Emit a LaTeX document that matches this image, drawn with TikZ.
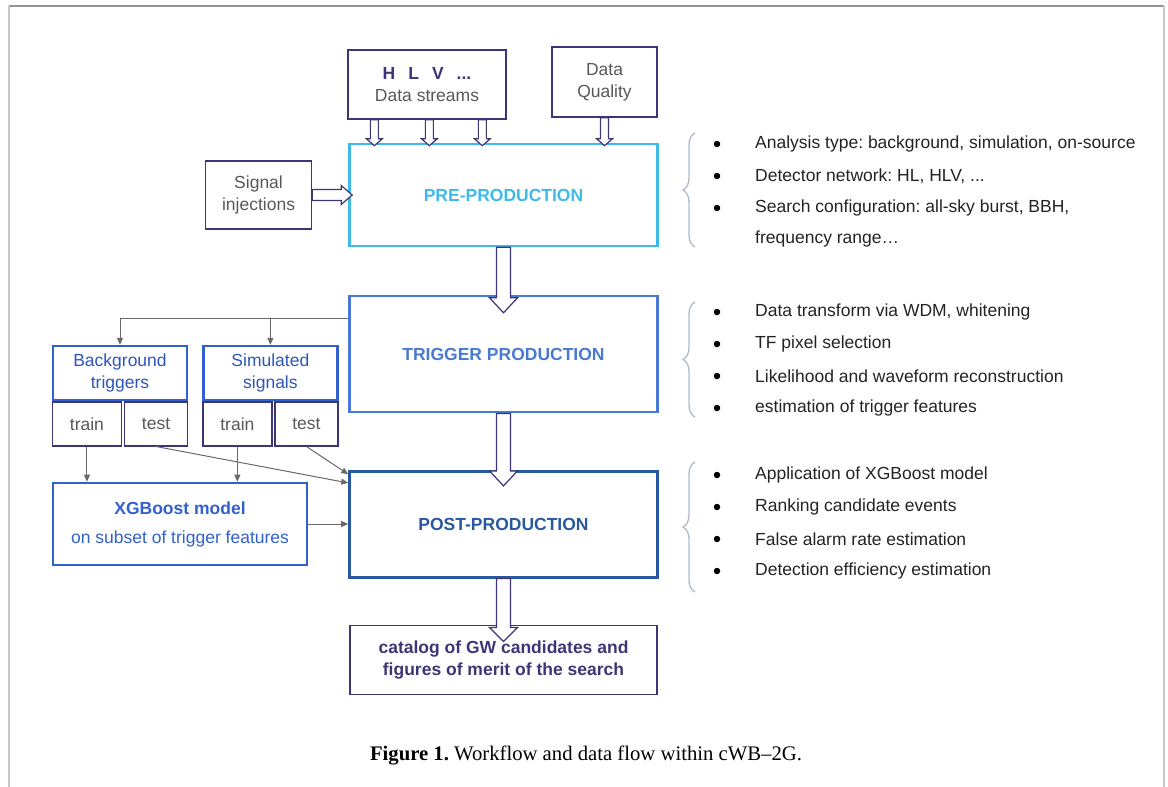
\documentclass[tikz,border=0pt]{standalone}
\usepackage{fontspec}
\setmainfont{Liberation Serif}
\setsansfont{Liberation Sans}
\usepackage{tikz}
\usetikzlibrary{positioning,calc,arrows.meta,decorations.pathreplacing}
\frenchspacing

\definecolor{navy}{RGB}{60,54,118}
\definecolor{labelgray}{RGB}{88,88,88}
\definecolor{precyan}{RGB}{62,186,232}
\definecolor{trigblue}{RGB}{72,122,212}
\definecolor{postblue}{RGB}{40,88,158}
\definecolor{boxblue}{RGB}{50,96,205}
\definecolor{conngray}{RGB}{105,105,105}
\definecolor{bracegray}{RGB}{175,188,200}
\definecolor{itemgray}{RGB}{35,35,35}

\newcommand{\txtsize}{\fontsize{17.5}{22}\selectfont}
\newcommand{\hollowarrow}[5]{%
  \coordinate (hb) at ($(#2)!#5!(#1)$);
  \draw[fat] ($(#1)!#3!90:(#2)$) -- ($(hb)!#3!-90:(#1)$) -- ($(hb)!#4!-90:(#1)$) -- (#2)
    -- ($(hb)!#4!90:(#1)$) -- ($(hb)!#3!90:(#1)$) -- ($(#1)!#3!-90:(#2)$) -- cycle;}

\begin{document}
\begin{tikzpicture}[x=1pt,y=-1pt]
    % Styles
    \tikzstyle{plain} = [draw=navy, line width=1.3pt, rectangle, inner sep=0pt, align=center,
        text=labelgray, font=\sffamily\txtsize]
    \tikzstyle{stage} = [draw, line width=2.6pt, rectangle, inner sep=0pt, minimum width=308pt,
        font=\sffamily\bfseries\txtsize]
    \tikzstyle{sample} = [draw=boxblue, line width=2.4pt, minimum width=134pt, minimum height=54pt,
        inner sep=0pt, align=center, text=boxblue!90!black, font=\sffamily\txtsize]
    \tikzstyle{half} = [draw=navy, line width=1.3pt, minimum height=44pt, inner sep=0pt,
        text=labelgray, font=\sffamily\txtsize]
    \tikzstyle{conn} = [draw=conngray, line width=1pt, -{Triangle[length=7pt,width=6pt]}]
    \tikzstyle{fat} = [draw=navy, line width=1.2pt, fill=white, line join=miter]
    \tikzstyle{bulletdot} = [circle, fill=black, inner sep=0pt, minimum size=6.5pt]
    \tikzstyle{listitem} = [anchor=west, inner sep=0pt, text=itemgray, font=\sffamily\txtsize]
    \tikzstyle{brc} = [draw=bracegray, line width=1.3pt, decorate, decoration={brace,amplitude=12pt}]

    \useasboundingbox (0,0) rectangle (1168,787);

    % Frame
    \draw[line width=1.5pt, draw=black!42] (9,6) -- (1164,6);
    \draw[line width=2pt, draw=black!22] (9,6) -- (9,787) (1164,6) -- (1164,787);

    % Nodes
    \node (pre)  [stage, draw=precyan, text=precyan, minimum height=102pt] at (503.5,195) {PRE-PRODUCTION};
    \node (trig) [stage, draw=trigblue, text=trigblue, minimum height=116pt, below=47.5pt of pre] {TRIGGER PRODUCTION};
    \node (post) [stage, draw=postblue, text=postblue, minimum height=106pt, below=56.5pt of trig] {POST-PRODUCTION};
    \node (cat)  [plain, minimum width=307pt, minimum height=69pt, text=navy, font=\sffamily\bfseries\txtsize,
        below=46pt of post] {catalog of GW candidates and\\figures of merit of the search};

    \node (ds)   [plain, minimum width=158pt, minimum height=69pt] at (427,84.5)
        {{\bfseries\color{navy}H\hspace{13pt}L\hspace{13pt}V\hspace{13pt}...}\\Data streams};
    \node (dq)   [plain, minimum width=105pt, minimum height=70pt] at (604.5,82) {Data\\Quality};
    \node (sig)  [plain, minimum width=106pt, minimum height=68pt, left=36pt of pre] {Signal\\injections};

    \node (bg)   [sample] at (120,373) {Background\\triggers};
    \node (sim)  [sample, right=14pt of bg] {Simulated\\signals};
    \node (bgtrain)  [half, minimum width=69pt, anchor=north west] at (bg.south west) {train};
    \node (bgtest)   [half, minimum width=63pt, anchor=north east] at (bg.south east) {test};
    \node (simtrain) [half, minimum width=69pt, anchor=north west] at (sim.south west) {train};
    \node (simtest)  [half, minimum width=63pt, anchor=north east] at (sim.south east) {test};
    \node (xgb)  [draw=boxblue, line width=2.6pt, minimum width=254pt, minimum height=82pt, align=center,
        text=boxblue, font=\sffamily\txtsize] at (180,524)
        {\textbf{XGBoost model}\\[7pt]on subset of trigger features};

    % Hollow arrows
    \foreach \dx [count=\i] in {27,82,135} {
        \coordinate (ds\i) at ($(ds.south west)+(\dx,0)$);
        \coordinate (in\i) at ($(ds\i |- pre.north)+(0,3)$);
        \hollowarrow{ds\i}{in\i}{4pt}{8pt}{7pt}
    }
    \coordinate (in4) at ($(dq.south |- pre.north)+(0,3)$);
    \hollowarrow{dq.south}{in4}{4pt}{8pt}{7pt}
    \coordinate (in5) at ($(pre.west)+(4,0)$);
    \hollowarrow{sig.east}{in5}{5.5pt}{9.5pt}{11pt}
    \coordinate (in6) at ($(trig.north)+(0,18)$);
    \hollowarrow{pre.south}{in6}{7pt}{14pt}{15pt}
    \coordinate (in7) at ($(post.north)+(0,16)$);
    \hollowarrow{trig.south}{in7}{7pt}{14pt}{15pt}
    \coordinate (in8) at ($(cat.north)+(0,17)$);
    \hollowarrow{post.south}{in8}{7pt}{14pt}{14pt}

    % Edges
    \coordinate (tap) at ($(trig.north west)!0.2!(trig.south west)$);
    \draw[conn] (tap) -| (bg.north);
    \draw[conn] (tap -| sim.north) -- (sim.north);
    \draw[conn] (bgtrain.south) -- (bgtrain.south |- xgb.north);
    \draw[conn] (simtrain.south) -- (simtrain.south |- xgb.north);
    \coordinate (postin1) at ($(post.north west)!0.04!(post.south west)$);
    \coordinate (postin2) at ($(post.north west)!0.12!(post.south west)$);
    \draw[conn] (simtest.south) -- (postin1);
    \draw[conn] (bgtest.south) -- (postin2);
    \draw[conn] (xgb.east) -- (xgb.east -| post.west);

    % Notes
    \draw[brc] (695,247) -- (695,133);
    \draw[brc] (695,417) -- (695,302);
    \draw[brc] (695,592) -- (695,462);
    \node (adot1) [bulletdot] at (717,144) {};
    \node (aitem1) [listitem] at (755,144) {Analysis type: background, simulation, on-source};
    \node (adot2) [bulletdot] at (717,176) {};
    \node (aitem2) [listitem] at (755,176) {Detector network: HL, HLV, ...};
    \node (adot3) [bulletdot] at (717,208) {};
    \node (aitem3) [listitem] at (755,208) {Search configuration: all-sky burst, BBH,};
    \node (aitem4) [listitem] at (755,239) {frequency range…};
    \foreach \t [count=\i] in {{Data transform via WDM, whitening}, {TF pixel selection},
        {Likelihood and waveform reconstruction}, {estimation of trigger features}} {
        \node (tdot\i) [bulletdot] at (717,280+32*\i) {};
        \node (titem\i) [listitem] at (755,280+32*\i) {\t};
    }
    \foreach \t [count=\i] in {{Application of XGBoost model}, {Ranking candidate events},
        {False alarm rate estimation}, {Detection efficiency estimation}} {
        \node (pdot\i) [bulletdot] at (717,443+32*\i) {};
        \node (pitem\i) [listitem] at (755,443+32*\i) {\t};
    }

    % Caption
    \node (caption) [font=\rmfamily\fontsize{20.7}{24}\selectfont] at (586,755)
        {\textbf{Figure 1.} Workflow and data flow within cWB--2G.};
\end{tikzpicture}
\end{document}
